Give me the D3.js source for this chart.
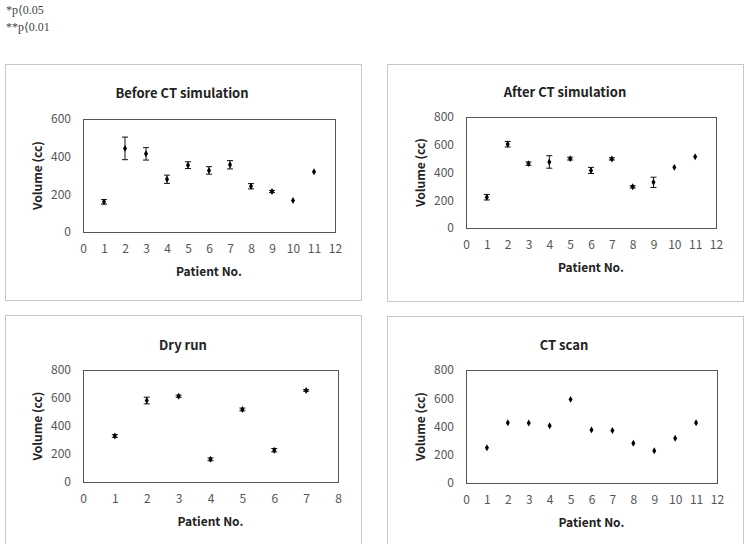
<!DOCTYPE html>
<html>
<head>
<meta charset="utf-8">
<script src="https://cdn.jsdelivr.net/npm/d3@7"></script>
<style>
  body { margin: 0; background: #fff; }
  svg { display: block; }
  .note { font-family: "Liberation Serif", "DejaVu Serif", serif; font-size: 12px; fill: #444; }
  .title { font-family: "Noto Sans CJK KR", "Noto Sans", sans-serif; font-size: 13px; font-weight: bold; fill: #222; }
  .axis-title { font-family: "Noto Sans CJK KR", "Noto Sans", sans-serif; font-size: 12px; font-weight: bold; fill: #222; }
  .tick text { font-family: "Noto Sans CJK KR", "Noto Sans", sans-serif; font-size: 12px; fill: #555; }
</style>
</head>
<body>
<div id="chart"></div>
<script>
// DATA
const patients11 = [1, 2, 3, 4, 5, 6, 7, 8, 9, 10, 11];
const patients7 = [1, 2, 3, 4, 5, 6, 7];

const beforeMean = [160, 444, 415, 280, 355, 327, 357, 243, 215, 167, 320];
const beforeErr  = [12, 60, 33, 22, 18, 20, 22, 14, 6, 0, 0];

const afterMean = [222, 604, 464, 476, 500, 415, 498, 297, 329, 437, 514];
const afterErr  = [20, 20, 12, 45, 10, 22, 8, 8, 37, 0, 0];

const dryMean = [329, 582, 613, 162, 518, 227, 654];
const dryErr  = [10, 24, 8, 10, 10, 12, 6];

const ctMean = [249, 427, 425, 406, 592, 376, 371, 282, 228, 317, 427];

const notes = ["*p\u27E80.05", "**p\u27E80.01"];

const width = 750, height = 544;

const svg = d3.select("#chart")
  .append("svg")
  .attr("width", width)
  .attr("height", height);

// notes top-left
svg.selectAll("text.note")
  .data(notes)
  .join("text")
  .attr("class", "note")
  .attr("x", 6)
  .attr("y", (d, i) => 14 + i * 17)
  .text(d => d);

function drawPanel(p) {
  const g = svg.append("g");

  // outer frame
  g.append("rect")
    .attr("x", p.box[0] + 0.5).attr("y", p.box[1] + 0.5)
    .attr("width", p.box[2]).attr("height", p.box[3])
    .attr("fill", "none").attr("stroke", "#c8c8c8");

  const x = d3.scaleLinear().domain([0, p.xMax]).range([p.plot[0], p.plot[2]]);
  const y = d3.scaleLinear().domain([0, p.yMax]).range([p.plot[3], p.plot[1]]);

  // title
  g.append("text")
    .attr("class", "title")
    .attr("x", p.titleX).attr("y", p.titleY)
    .attr("text-anchor", "middle")
    .text(p.title);

  // axes
  const xAxis = d3.axisBottom(x).ticks(p.xMax).tickSize(0).tickPadding(12).tickFormat(d3.format("d"));
  const yAxis = d3.axisLeft(y).tickValues(d3.range(0, p.yMax + 1, 200)).tickSize(0).tickPadding(12);

  const xg = g.append("g")
    .attr("transform", `translate(0, ${p.plot[3]})`)
    .call(xAxis);
  xg.select(".domain").remove();

  const yg = g.append("g")
    .attr("transform", `translate(${p.plot[0]}, 0)`)
    .call(yAxis);
  yg.select(".domain").remove();

  // plot area frame
  g.append("rect")
    .attr("x", p.plot[0] + 0.5).attr("y", p.plot[1] + 0.5)
    .attr("width", p.plot[2] - p.plot[0]).attr("height", p.plot[3] - p.plot[1])
    .attr("fill", "none").attr("stroke", "#555").attr("stroke-width", 1);

  // axis titles
  g.append("text")
    .attr("class", "axis-title")
    .attr("x", (p.plot[0] + p.plot[2]) / 2)
    .attr("y", p.plot[3] + 44)
    .attr("text-anchor", "middle")
    .text("Patient No.");

  g.append("text")
    .attr("class", "axis-title")
    .attr("transform", `translate(${p.plot[0] - 41}, ${(p.plot[1] + p.plot[3]) / 2}) rotate(-90)`)
    .attr("text-anchor", "middle")
    .text("Volume (cc)");

  const data = p.xs.map((d, i) => ({ x: d, m: p.mean[i], e: p.err ? p.err[i] : 0 }));

  // error bars
  const eb = g.selectAll("g.eb")
    .data(data.filter(d => d.e > 0))
    .join("g")
    .attr("class", "eb")
    .attr("stroke", "#111").attr("stroke-width", 1);
  eb.append("line")
    .attr("x1", d => x(d.x)).attr("x2", d => x(d.x))
    .attr("y1", d => y(d.m - d.e)).attr("y2", d => y(d.m + d.e));
  eb.append("line")
    .attr("x1", d => x(d.x) - 3).attr("x2", d => x(d.x) + 3)
    .attr("y1", d => y(d.m - d.e)).attr("y2", d => y(d.m - d.e));
  eb.append("line")
    .attr("x1", d => x(d.x) - 3).attr("x2", d => x(d.x) + 3)
    .attr("y1", d => y(d.m + d.e)).attr("y2", d => y(d.m + d.e));

  // markers
  g.selectAll("path.pt")
    .data(data)
    .join("path")
    .attr("class", "pt")
    .attr("d", d3.symbol(d3.symbolDiamond).size(14))
    .attr("transform", d => `translate(${x(d.x)}, ${y(d.m)})`)
    .attr("fill", "#000");
}

drawPanel({ title: "Before CT simulation", box: [5, 64, 356, 236], plot: [83, 119, 335, 232],
  titleX: 182, titleY: 98, xMax: 12, yMax: 600, xs: patients11, mean: beforeMean, err: beforeErr });

drawPanel({ title: "After CT simulation", box: [387, 64, 356, 237], plot: [466, 117, 716, 228],
  titleX: 565, titleY: 97, xMax: 12, yMax: 800, xs: patients11, mean: afterMean, err: afterErr });

drawPanel({ title: "Dry run", box: [5, 315, 356, 240], plot: [83, 370, 338, 482],
  titleX: 183, titleY: 350, xMax: 8, yMax: 800, xs: patients7, mean: dryMean, err: dryErr });

drawPanel({ title: "CT scan", box: [387, 316, 356, 240], plot: [466, 370, 717, 483],
  titleX: 564, titleY: 350, xMax: 12, yMax: 800, xs: patients11, mean: ctMean, err: null });
</script>
</body>
</html>
